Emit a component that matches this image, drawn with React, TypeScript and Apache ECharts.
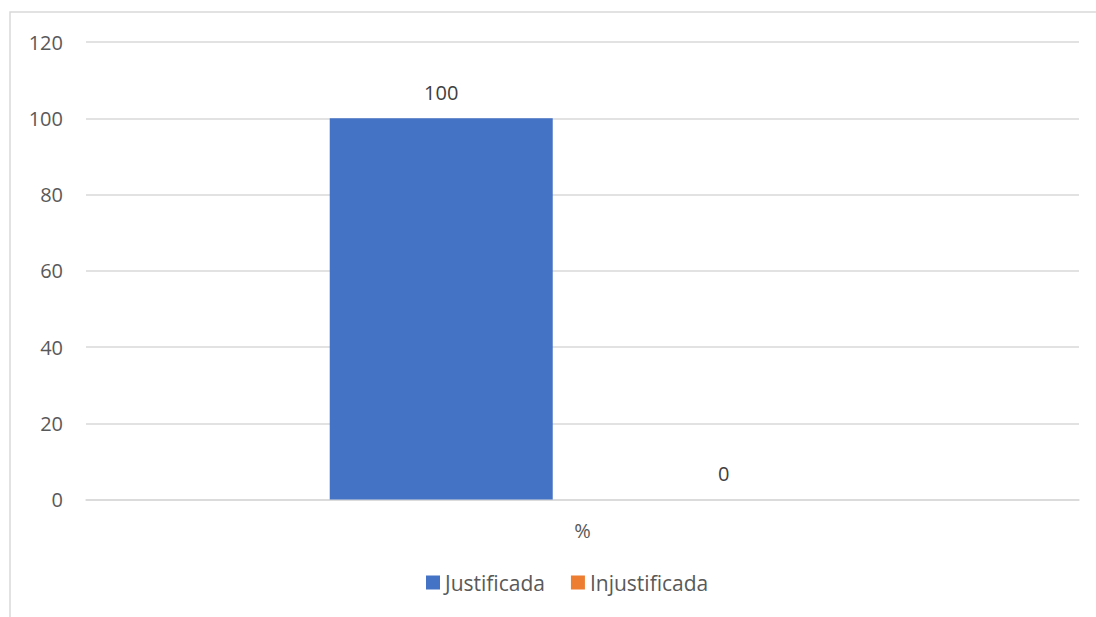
import React, { useEffect, useRef } from "react";
import * as echarts from "echarts";

const categories = ["%"];
const justificada = [100];
const injustificada = [0];
const yTicks = { min: 0, max: 120, interval: 20 };

export default function App() {
  const ref = useRef<HTMLDivElement>(null);

  useEffect(() => {
    if (!ref.current) return;
    const chart = echarts.init(ref.current, null, { renderer: "svg" });
    const font = "'Open Sans', 'Liberation Sans', sans-serif";
    const labelStyle = {
      show: true,
      position: "top" as const,
      distance: 16,
      color: "#404040",
      fontSize: 20,
      fontFamily: font,
    };
    chart.setOption({
      animation: false,
      backgroundColor: "#ffffff",
      textStyle: { fontFamily: font },
      graphic: [
        {
          type: "rect",
          shape: { x: 10, y: 12, width: 1100, height: 620 },
          style: { fill: "none", stroke: "#d9d9d9", lineWidth: 1.5 },
          silent: true,
          z: -1,
        },
      ],
      grid: { left: 86, right: 17, top: 42, bottom: 117.5, containLabel: false },
      legend: {
        top: 567,
        left: 421,
        itemWidth: 14,
        itemHeight: 14,
        itemGap: 26,
        icon: "rect",
        textStyle: { color: "#595959", fontSize: 21, fontFamily: font },
        data: ["Justificada", "Injustificada"],
      },
      xAxis: {
        type: "category",
        data: categories,
        axisLine: { lineStyle: { color: "#d9d9d9", width: 1.5 } },
        axisTick: { show: false },
        axisLabel: { color: "#595959", fontSize: 20, margin: 21, fontFamily: font },
      },
      yAxis: {
        type: "value",
        min: yTicks.min,
        max: yTicks.max,
        interval: yTicks.interval,
        axisLine: { show: false },
        axisTick: { show: false },
        axisLabel: { color: "#595959", fontSize: 20, margin: 23, fontFamily: font },
        splitLine: { lineStyle: { color: "#d9d9d9", width: 1.5 } },
      },
      series: [
        {
          name: "Justificada",
          type: "bar",
          data: justificada,
          barWidth: 223,
          barGap: "26.7%",
          itemStyle: { color: "#4472c4" },
          label: labelStyle,
        },
        {
          name: "Injustificada",
          type: "bar",
          data: injustificada,
          barWidth: 223,
          itemStyle: { color: "#ed7d31" },
          label: labelStyle,
        },
      ],
    });
    return () => chart.dispose();
  }, []);

  return (
    <div
      ref={ref}
      style={{ position: "fixed", left: 0, top: 0, width: 1096, height: 617 }}
    />
  );
}
